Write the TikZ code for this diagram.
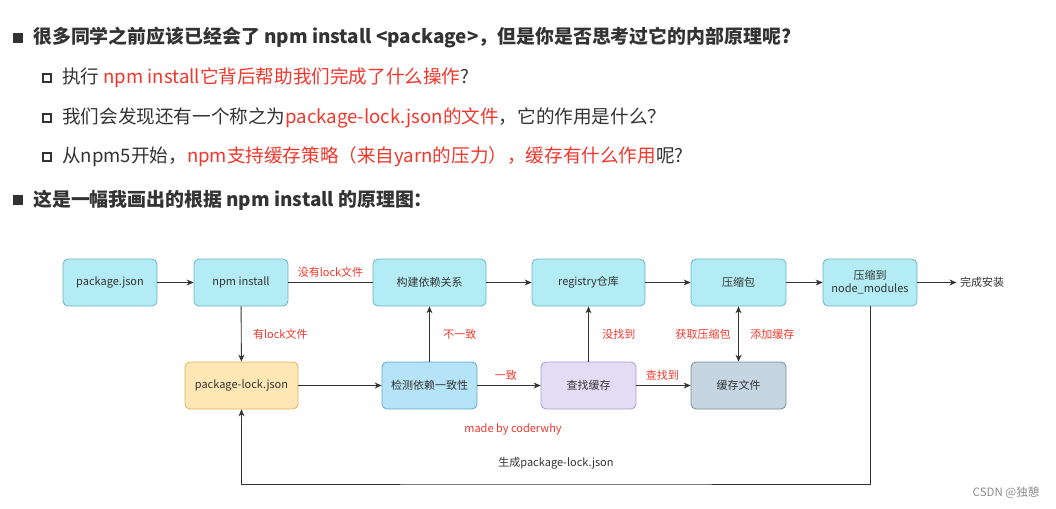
\documentclass[tikz,border=0pt]{standalone}
\usepackage{fontspec}
\setmainfont{Noto Sans CJK SC}
\usetikzlibrary{arrows.meta, positioning}

\definecolor{inkgray}{HTML}{333333}
\definecolor{hlred}{HTML}{F2362B}
\definecolor{cyanfill}{HTML}{B3ECF4}
\definecolor{cyanline}{HTML}{6BB5C4}
\definecolor{bluefill}{HTML}{B5E3F8}
\definecolor{blueline}{HTML}{5EA6CC}
\definecolor{lockfill}{HTML}{FFE7B5}
\definecolor{lockline}{HTML}{E6AE55}
\definecolor{lilacfill}{HTML}{E2DDF4}
\definecolor{lilacline}{HTML}{A79DCB}
\definecolor{slatefill}{HTML}{C5D6E2}
\definecolor{slateline}{HTML}{768A98}

\begin{document}
\begin{tikzpicture}[
    x=1pt, y=-1pt,
    every node/.style={align=center, font=\fontsize{11}{13}\selectfont, text=inkgray},
    headline/.style={anchor=west, inner sep=0pt, font=\fontsize{18.9}{21}\selectfont\bfseries},
    subline/.style={anchor=west, inner sep=0pt, font=\fontsize{18.6}{20}\selectfont},
    bulletfill/.style={rectangle, fill=inkgray, minimum size=10pt, inner sep=0pt},
    bullethollow/.style={rectangle, draw=inkgray, line width=2.4pt, minimum size=7.6pt, inner sep=0pt},
    box/.style={rectangle, rounded corners=5pt, line width=0.8pt, minimum height=47pt, inner sep=2pt},
    stepcyan/.style={box, draw=cyanline, fill=cyanfill},
    stepblue/.style={box, draw=blueline, fill=bluefill},
    steplock/.style={box, draw=lockline, fill=lockfill},
    steplilac/.style={box, draw=lilacline, fill=lilacfill},
    stepslate/.style={box, draw=slateline, fill=slatefill},
    arrow/.style={->, >={Stealth[length=7pt, width=6pt]}, line width=0.9pt, draw=inkgray},
    redtag/.style={text=hlred}
]
\useasboundingbox (0,0) rectangle (1056,508);

% --- Texto de arriba
\node[bulletfill] (b1) at (18,38) {};
\node[headline] (q1) at (33,38) {很多同学之前应该已经会了 npm install <package>，但是你是否思考过它的内部原理呢?};
\node[bullethollow] (b2) at (47,78) {};
\node[subline] (q2) at (62,78) {执行 \textcolor{hlred}{npm install它背后帮助我们完成了什么操作}?};
\node[bullethollow] (b3) at (47,118) {};
\node[subline] (q3) at (62,118) {我们会发现还有一个称之为\textcolor{hlred}{package-lock.json的文件}，它的作用是什么？};
\node[bullethollow] (b4) at (47,157) {};
\node[subline] (q4) at (62,157) {从npm5开始，\textcolor{hlred}{npm支持缓存策略（来自yarn的压力），缓存有什么作用}呢?};
\node[bulletfill] (b5) at (18,200) {};
\node[headline] (q5) at (33,200) {这是一幅我画出的根据 npm install 的原理图：};

% --- Nodos principales
\node[stepcyan, minimum width=94pt] (pkgjson) at (110,282.5) {package.json};
\node[stepcyan, minimum width=94pt] (npminstall) at (241,282.5) {npm install};
\node[stepcyan, minimum width=113pt] (builddeps) at (429.5,282.5) {构建依赖关系};
\node[stepcyan, minimum width=113pt] (registry) at (588.5,282.5) {registry仓库};
\node[stepcyan, minimum width=95pt] (tarball) at (738.5,282.5) {压缩包};
\node[stepcyan, minimum width=94pt] (unpack) at (870,282.5) {压缩到\\node\_modules};
\node (finish) at (982,282.5) {完成安装};

\node[steplock, minimum width=113pt] (lockfile) at (241.5,385.5) {package-lock.json};
\node[stepblue, minimum width=95pt] (checkdeps) at (429.5,385.5) {检测依赖一致性};
\node[steplilac, minimum width=95pt] (findcache) at (588.5,385.5) {查找缓存};
\node[stepslate, minimum width=95pt] (cachefile) at (738.5,385.5) {缓存文件};

\node[redtag] (madeby) at (513,429) {made by coderwhy};
\node[font=\fontsize{11.5}{13}\selectfont, text=black!45] (csdn) at (1006,493) {CSDN @独憩};

% --- Flechas de la fila de arriba
\draw[arrow] (pkgjson) -- (npminstall);
\draw[line width=0.9pt, draw=inkgray] (npminstall) -- node[redtag, above=1pt] {没有lock文件} (builddeps);
\draw[arrow] (builddeps) -- (registry);
\draw[arrow] (registry) -- (tarball);
\draw[arrow] (tarball) -- (unpack);
\draw[arrow] (unpack) -- (finish);

% --- Flechas verticales
\draw[arrow] (npminstall) -- node[redtag, right=8pt] {有lock文件} (lockfile);
\draw[arrow] (checkdeps) -- node[redtag, right=10pt] {不一致} (builddeps);
\draw[arrow] (findcache) -- node[redtag, right=10pt] {没找到} (registry);
\draw[arrow, <->] (tarball) -- node[redtag, left=4pt] {获取压缩包} node[redtag, right=8pt] {添加缓存} (cachefile);

% --- Flechas de la fila de abajo
\draw[arrow] (lockfile) -- (checkdeps);
\draw[arrow] (checkdeps) -- node[redtag, above=1pt, pos=0.45] {一致} (findcache);
\draw[arrow] (findcache) -- node[redtag, above=1pt, pos=0.48] {查找到} (cachefile);

% Vuelta: genera package-lock.json
\coordinate (loopbot) at (556,484);
\draw[arrow] (unpack.south) |- (loopbot) node[above=11pt] {生成package-lock.json} -| (lockfile.south);

\end{tikzpicture}
\end{document}
